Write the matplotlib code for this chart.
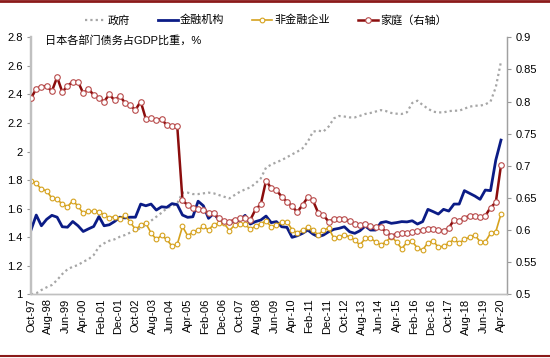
import matplotlib
matplotlib.use("Agg")
import matplotlib.pyplot as plt
import matplotlib.lines as mlines
import pandas as pd
import numpy as np

plt.rcParams['font.family'] = ['Liberation Sans', 'Noto Sans CJK SC', 'DejaVu Sans']

dates = pd.date_range("1997-10-01", periods=91, freq="3MS")

gov = [1.00, 1.007, 1.03, 1.049, 1.065, 1.10, 1.142, 1.175, 1.193, 1.205,
       1.228, 1.245, 1.275, 1.333, 1.357, 1.375, 1.385, 1.403, 1.415, 1.432,
       1.45, 1.462, 1.485, 1.515, 1.543, 1.571, 1.602, 1.618, 1.637, 1.712,
       1.712, 1.702, 1.702, 1.707, 1.712, 1.707, 1.695, 1.683, 1.672, 1.695,
       1.718, 1.735, 1.749, 1.777, 1.812, 1.888, 1.908, 1.925, 1.94, 1.96,
       1.98, 1.999, 2.022, 2.069, 2.139, 2.146, 2.14, 2.175, 2.232, 2.249,
       2.245, 2.239, 2.239, 2.25, 2.263, 2.27, 2.28, 2.29, 2.283, 2.27,
       2.265, 2.263, 2.275, 2.34, 2.356, 2.326, 2.30, 2.279, 2.274, 2.274,
       2.283, 2.286, 2.286, 2.30, 2.314, 2.321, 2.321, 2.33, 2.35, 2.45,
       2.63]

fin = [1.45, 1.555, 1.48, 1.525, 1.553, 1.54, 1.473, 1.47, 1.51, 1.48,
       1.44, 1.458, 1.475, 1.545, 1.48, 1.487, 1.51, 1.54, 1.535, 1.54,
       1.54, 1.632, 1.62, 1.632, 1.59, 1.613, 1.609, 1.635, 1.628, 1.555,
       1.539, 1.543, 1.652, 1.62, 1.532, 1.567, 1.52, 1.509, 1.502, 1.509,
       1.52, 1.553, 1.492, 1.509, 1.52, 1.548, 1.502, 1.509, 1.473, 1.469,
       1.399, 1.41, 1.427, 1.45, 1.422, 1.403, 1.415, 1.438, 1.455, 1.462,
       1.473, 1.438, 1.427, 1.445, 1.478, 1.45, 1.45, 1.502, 1.509, 1.497,
       1.502, 1.509, 1.507, 1.515, 1.492, 1.509, 1.595, 1.579, 1.562, 1.595,
       1.583, 1.632, 1.632, 1.726, 1.707, 1.688, 1.665, 1.73, 1.726, 1.94,
       2.08]

nonfin = [1.796, 1.777, 1.735, 1.726, 1.672, 1.665, 1.632, 1.613, 1.655, 1.618,
          1.567, 1.581, 1.581, 1.579, 1.555, 1.535, 1.544, 1.53, 1.555, 1.506,
          1.455, 1.483, 1.497, 1.43, 1.384, 1.412, 1.384, 1.337, 1.35, 1.475,
          1.41, 1.435, 1.45, 1.475, 1.452, 1.488, 1.496, 1.496, 1.446, 1.484,
          1.491, 1.49, 1.455, 1.478, 1.495, 1.514, 1.472, 1.484, 1.509, 1.509,
          1.452, 1.43, 1.45, 1.469, 1.45, 1.415, 1.45, 1.465, 1.392, 1.403,
          1.415, 1.403, 1.38, 1.345, 1.392, 1.392, 1.368, 1.345, 1.368, 1.403,
          1.368, 1.318, 1.365, 1.372, 1.322, 1.31, 1.362, 1.375, 1.329, 1.338,
          1.357, 1.385, 1.357, 1.385, 1.399, 1.415, 1.368, 1.368, 1.427, 1.438,
          1.562]

household = [0.805, 0.820, 0.823, 0.824, 0.816, 0.838, 0.815, 0.824, 0.831, 0.831,
             0.813, 0.820, 0.810, 0.806, 0.800, 0.811, 0.802, 0.809, 0.798, 0.794,
             0.787, 0.800, 0.773, 0.774, 0.771, 0.773, 0.763, 0.762, 0.762, 0.646,
             0.639, 0.634, 0.632, 0.631, 0.627, 0.626, 0.618, 0.614, 0.613, 0.616,
             0.618, 0.618, 0.616, 0.632, 0.640, 0.677, 0.665, 0.662, 0.652, 0.644,
             0.637, 0.628, 0.639, 0.651, 0.646, 0.627, 0.623, 0.613, 0.617, 0.617,
             0.617, 0.614, 0.609, 0.608, 0.610, 0.606, 0.604, 0.604, 0.597, 0.591,
             0.594, 0.595, 0.596, 0.597, 0.598, 0.600, 0.602, 0.602, 0.600, 0.598,
             0.603, 0.616, 0.614, 0.619, 0.622, 0.622, 0.620, 0.622, 0.635, 0.643,
             0.701]

xtick_labels = ["Oct-97", "Aug-98", "Jun-99", "Apr-00", "Feb-01", "Dec-01", "Oct-02",
                "Aug-03", "Jun-04", "Apr-05", "Feb-06", "Dec-06", "Oct-07", "Aug-08",
                "Jun-09", "Apr-10", "Feb-11", "Dec-11", "Oct-12", "Aug-13", "Jun-14",
                "Apr-15", "Feb-16", "Dec-16", "Oct-17", "Aug-18", "Jun-19", "Apr-20"]
left_ticks = [1.0, 1.2, 1.4, 1.6, 1.8, 2.0, 2.2, 2.4, 2.6, 2.8]
right_ticks = [0.5, 0.55, 0.6, 0.65, 0.7, 0.75, 0.8, 0.85, 0.9]
names = ["政府", "金融机构", "非金融企业", "家庭（右轴）"]
title = "日本各部门债务占GDP比重，%"

c_gov = "#a6a6a6"
c_fin = "#0b1c86"
c_non = "#d6a21e"
c_hh = "#8b0d0d"

fig = plt.figure(figsize=(5.5, 3.58), dpi=100)
ax = fig.add_axes([31/550, 1-294.3/358, (507-31)/550, (294.3-37.3)/358])
ax2 = ax.twinx()

ax.plot(dates, gov, color=c_gov, lw=1.6, ls=(0, (1, 1.4)), zorder=2)
ax.plot(dates, fin, color=c_fin, lw=2.0, zorder=3)
ax.plot(dates, nonfin, color=c_non, lw=1.2, marker='o', ms=3.4, mfc='white',
        mec=c_non, mew=0.8, zorder=4)
ax2.plot(dates, household, color=c_hh, lw=1.8, marker='o', ms=4.0, mfc='white',
         mec='#b84a4a', mew=0.8, zorder=5)

ax.set_ylim(1.0, 2.8)
ax2.set_ylim(0.5, 0.9)
ax.set_xlim(pd.Timestamp("1997-10-01"), pd.Timestamp("2020-07-15"))

fs = 8
tick_dates = pd.date_range("1997-10-01", periods=len(xtick_labels), freq="10MS")
ax.set_xticks(tick_dates)
ax.set_xticklabels(xtick_labels, rotation=90, fontsize=fs)
ax.tick_params(axis='x', length=0, pad=3)

ax.set_yticks(left_ticks)
ax.set_yticklabels([f"{v:g}" for v in left_ticks], fontsize=fs)
ax2.set_yticks(right_ticks)
ax2.set_yticklabels([f"{v:g}" for v in right_ticks], fontsize=fs)
ax.tick_params(axis='y', length=3, color='#999999', pad=3)
ax2.tick_params(axis='y', length=3, color='#999999', pad=3)

for a in (ax, ax2):
    a.spines['top'].set_visible(False)
    a.spines['left'].set_color('#c0c0c0')
    a.spines['left'].set_linewidth(1.6)
    a.spines['right'].set_color('#a0a0a0')
    a.spines['right'].set_linewidth(0.9)
    a.spines['bottom'].set_color('#c0c0c0')
    a.spines['bottom'].set_linewidth(1.0)

ax.text(45/550, 1-40/358, title, transform=fig.transFigure, fontsize=8,
        va='center', ha='left', family=['Liberation Sans', 'Noto Sans CJK SC'])

handles = [
    mlines.Line2D([], [], color=c_gov, lw=1.6, ls=(0, (1, 1.4))),
    mlines.Line2D([], [], color=c_fin, lw=2.0),
    mlines.Line2D([], [], color=c_non, lw=1.2, marker='o', ms=3.4, mfc='white', mec=c_non, mew=0.8),
    mlines.Line2D([], [], color=c_hh, lw=1.8, marker='o', ms=4.0, mfc='white', mec='#b84a4a', mew=0.8),
]
fig.legend(handles, names, loc='center', bbox_to_anchor=(266/550, 1-20/358), ncol=4,
           frameon=False, handlelength=1.8, handletextpad=0.2,
           columnspacing=2.5, prop={'family': ['Noto Sans CJK SC'], 'size': 8})

fig.add_artist(mlines.Line2D([0, 1], [1-1/358, 1-1/358], transform=fig.transFigure,
                             color='#8b1a1a', lw=2.0))
fig.add_artist(mlines.Line2D([0, 1], [1-355.5/358, 1-355.5/358], transform=fig.transFigure,
                             color='#8b1a1a', lw=1.5))

fig.savefig("out.png", dpi=100)
